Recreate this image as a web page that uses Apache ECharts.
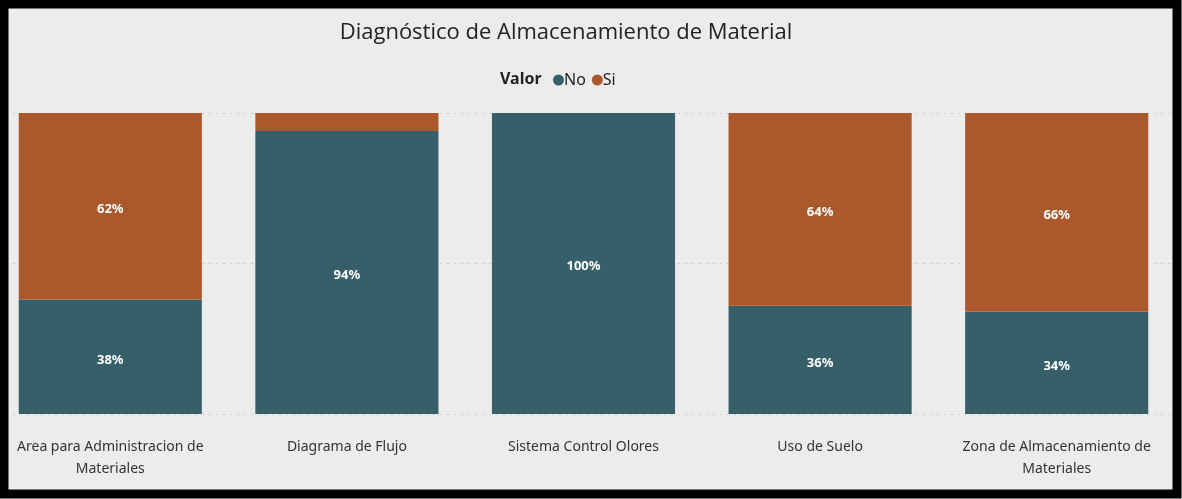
<!DOCTYPE html>
<html><head><meta charset="utf-8">
<script src="https://cdn.jsdelivr.net/npm/echarts@6/dist/echarts.min.js"></script>
<style>html,body{margin:0;padding:0;background:#ececec;overflow:hidden;width:1182px;height:499px;position:relative}
#c{position:absolute;left:-8px;top:0;width:1190px;height:499px}</style>
</head><body><div id="c"></div>
<script>
const categories = ["Area para Administracion de\nMateriales","Diagrama de Flujo","Sistema Control Olores","Uso de Suelo","Zona de Almacenamiento de\nMateriales"];
const noValues = [38, 94, 100, 36, 34];
const siValues = [62, 6, 0, 64, 66];
const seriesNames = ["No","Si"];
const colors = ["#365f6a","#ac582d"];

const X0 = 8; // horizontal shift of the canvas
const chart = echarts.init(document.getElementById('c'));
const lbl = {show:true, position:'inside', offset:[0,3], color:'#fff', fontFamily:'Noto Sans', fontSize:13, fontWeight:'bold',
  formatter: p => p.value >= 10 ? p.value + '%' : ''};
chart.setOption({
  backgroundColor:'#ececec',
  animation:false,
  title:[
    {text:'Diagnóstico de Almacenamiento de Material', left:561 + X0, top:17, textAlign:'center',
     textStyle:{fontFamily:'Open Sans', fontWeight:'normal', fontSize:22, color:'#222'}},
    {text:'Valor', left:495 + X0, top:66, textStyle:{fontFamily:'Noto Sans', fontWeight:'bold', fontSize:16, color:'#222'}}
  ],
  legend:{left:548 + X0, top:67, icon:'circle', itemWidth:11, itemHeight:11, itemGap:6,
    textStyle:{fontFamily:'Noto Sans', fontSize:16, color:'#222', padding:[0,0,0,-5]},
    data:seriesNames},
  grid:{left:0, right:7, top:113, bottom:85},
  xAxis:{type:'category', data:categories, axisLine:{show:false}, axisTick:{show:false},
    axisLabel:{interval:0, margin:22, lineHeight:22, fontFamily:'Noto Sans', fontSize:14, color:'#333'}},
  yAxis:{type:'value', min:0, max:100, interval:50, axisLabel:{show:false}, axisLine:{show:false}, axisTick:{show:false},
    splitLine:{lineStyle:{type:[2,5], color:'#cfcfcf', width:1}}},
  series:[
    {name:seriesNames[0], type:'bar', stack:'t', data:noValues, barCategoryGap:'22.6%', itemStyle:{color:colors[0]}, label:lbl},
    {name:seriesNames[1], type:'bar', stack:'t', data:siValues, itemStyle:{color:colors[1]}, label:lbl}
  ],
  graphic:[{type:'rect', z:100, silent:true, shape:{x:4 + X0,y:4,width:1173,height:490},
    style:{fill:'none', stroke:'#000', lineWidth:9}}]
});
</script></body></html>
